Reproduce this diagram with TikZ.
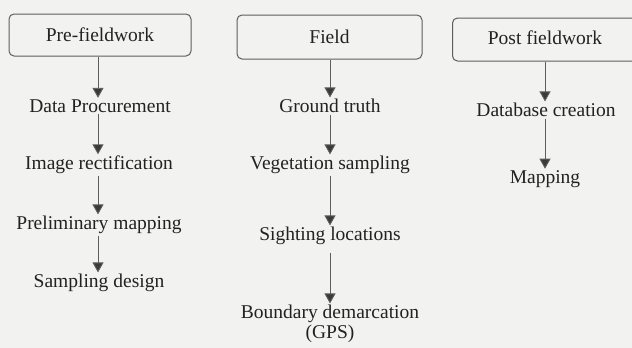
\documentclass[tikz,border=0pt]{standalone}
\usepackage{fontspec}
\setmainfont{Liberation Serif}
\usetikzlibrary{arrows.meta}
\definecolor{paper}{HTML}{F2F2F0}
\definecolor{ink}{HTML}{222222}
\definecolor{edge}{HTML}{5E5E5E}
\definecolor{tip}{HTML}{3A3A3A}
\tikzset{
  phase/.style={draw=edge, line width=1pt, rounded corners=5pt, inner sep=0pt, text=ink, font=\fontsize{19.5}{20}\selectfont},
  lbl/.style={text=ink, font=\fontsize{19.5}{20}\selectfont, inner sep=1.5pt, align=center},
  flow/.style={draw=edge, line width=0.9pt, -{Triangle[length=10pt,width=11pt,fill=tip]}, color=edge}
}
\begin{document}
\begin{tikzpicture}[x=1pt,y=-1pt]
\fill[paper] (0,0) rectangle (632,348);
\useasboundingbox (0,0) rectangle (632,348);
\clip (0,0) rectangle (632,348);
% boxes
\node[phase, minimum width=182pt, minimum height=42pt] (pre) at (100,35) {Pre-fieldwork};
\node[phase, minimum width=185pt, minimum height=44pt] (fld) at (329.5,37) {Field};
\node[phase, minimum width=200pt, minimum height=43pt, anchor=west] (post) at (452,39.5) {};
\node[text=ink, font=\fontsize{19.5}{20}\selectfont] (postt) at (545,38) {Post fieldwork};
% column 1
\node[lbl] (dp) at (100,106) {Data Procurement};
\node[lbl] (ir) at (99,165) {Image rectification};
\node[lbl] (pm) at (99,225) {Preliminary mapping};
\node[lbl] (sd) at (99,283) {Sampling design};
% column 2
\node[lbl] (gt) at (330,106) {Ground truth};
\node[lbl] (vs) at (330,165) {Vegetation sampling};
\node[lbl] (sl) at (330,236) {Sighting locations};
\node[lbl] (bd) at (330,324) {Boundary demarcation\\(GPS)};
% column 3
\node[lbl] (dc) at (546,110) {Database creation};
\node[lbl] (mp) at (545,179) {Mapping};
% arrows
\draw[flow] (pre.south -| 98,0) -- (dp.north -| 98,0);
\draw[flow] (dp.south -| 98,0) -- (ir.north -| 98,0);
\draw[flow] (ir.south -| 98,0) -- (pm.north -| 98,0);
\draw[flow] (pm.south -| 98,0) -- (sd.north -| 98,0);
\draw[flow] (fld.south -| 330,0) -- (gt.north -| 330,0);
\draw[flow] (gt.south -| 330,0) -- (vs.north -| 330,0);
\draw[flow] (vs.south -| 330,0) -- (sl.north -| 330,0);
\draw[flow, shorten <=6pt] (sl.south -| 330,0) -- (bd.north -| 330,0);
\draw[flow] (post.south -| 545,0) -- (dc.north -| 545,0);
\draw[flow] (dc.south -| 545,0) -- (mp.north -| 545,0);
\end{tikzpicture}
\end{document}
